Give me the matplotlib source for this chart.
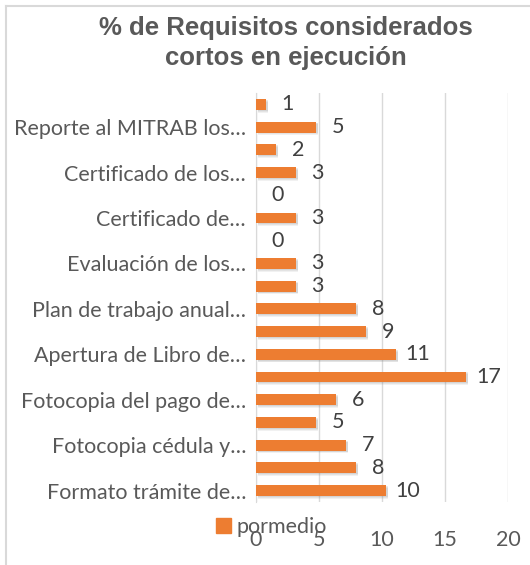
import numpy as np
import matplotlib.pyplot as plt
from matplotlib.patches import Rectangle
from matplotlib.lines import Line2D

# Data (bottom to top, as drawn by barh)
etiquetas = ["Formato trámite de…", "", "Fotocopia cédula y…", "",
             "Fotocopia del pago de…", "", "Apertura de Libro de…", "",
             "Plan de trabajo anual…", "", "Evaluación de los…", "",
             "Certificado de…", "", "Certificado de los…", "",
             "Reporte al MITRAB los…", ""]
promedio = [10.32, 7.94, 7.14, 4.76, 6.35, 16.67, 11.11, 8.73, 7.94,
            3.17, 3.17, 0.0, 3.17, 0.0, 3.17, 1.59, 4.76, 0.79]
titulo = "% de Requisitos considerados\ncortos en ejecución"
serie = "pormedio"

naranja = "#ED7D31"
gris = "#595959"
fuente = "Lato"
W, H = 530, 565

fig = plt.figure(figsize=(W / 100, H / 100), dpi=100)
ax = fig.add_axes([255.7 / W, 1 - 502 / H, (508.3 - 255.7) / W, (502 - 93) / H])

y = np.arange(len(promedio))
# soft shadow under bars
for k, a in [(0.12, 0.10), (0.08, 0.12), (0.04, 0.15)]:
    ax.barh(y - k, promedio, height=0.48, left=0.15, color="#7f7f7f", alpha=a, zorder=2, lw=0)
ax.barh(y, promedio, height=0.48, color=naranja, zorder=3, lw=0, label=serie)

for yi, v in zip(y, promedio):
    ax.text(v + 1.75, yi, f"{v:.0f}", ha="center", va="center",
            fontsize=15.5, color="#404040", family=fuente)

ax.set_xlim(0, 20)
ax.set_ylim(-0.5, len(promedio) - 0.5)
ax.set_xticks([0, 5, 10, 15, 20])
ax.set_yticks(y)
ax.set_yticklabels(etiquetas, fontsize=15.5, color=gris, family=fuente)
ax.tick_params(axis="both", length=0, pad=7)
ax.tick_params(axis="x", labelsize=15.5, labelcolor=gris, pad=20)
for t in ax.get_xticklabels():
    t.set_family(fuente)
ax.grid(axis="x", color="#d9d9d9", lw=1, zorder=0)
for s in ["top", "right", "bottom"]:
    ax.spines[s].set_visible(False)
ax.spines["left"].set_color("#d9d9d9")

fig.text(286 / W, 1 - 43 / H, titulo, ha="center", va="center", fontsize=18.5,
         fontweight="bold", color=gris, family="Liberation Sans", linespacing=1.35)

fig.legend(handles=[Rectangle((0, 0), 1, 1, color=naranja)], labels=[serie],
           loc="center", bbox_to_anchor=(271 / W, 1 - 527 / H), frameon=False,
           handlelength=0.7, handleheight=0.7, handletextpad=0.25,
           prop={"family": fuente, "size": 15.5}, labelcolor=gris)

# chart area border (left and top visible)
fig.add_artist(Line2D([6 / W, 6 / W], [0, 1 - 6 / H], color="#d9d9d9", lw=1.5))
fig.add_artist(Line2D([6 / W, 1], [1 - 6 / H, 1 - 6 / H], color="#d9d9d9", lw=1.5))

fig.savefig("out.png", dpi=100, facecolor="white")
